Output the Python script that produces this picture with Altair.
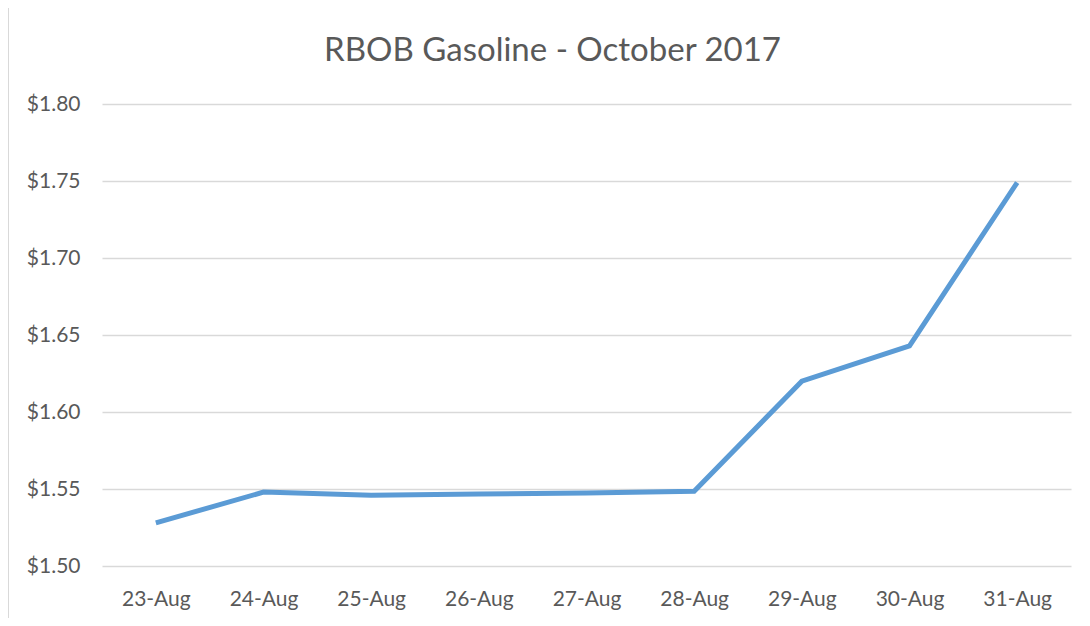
import altair as alt
import pandas as pd

dates = ["23-Aug", "24-Aug", "25-Aug", "26-Aug", "27-Aug", "28-Aug", "29-Aug", "30-Aug", "31-Aug"]
prices = [1.528, 1.548, 1.546, 1.5467, 1.5474, 1.5485, 1.620, 1.643, 1.749]
y_ticks = [1.50, 1.55, 1.60, 1.65, 1.70, 1.75, 1.80]

df = pd.DataFrame({"date": dates, "price": prices})

W, H = 969, 462
FONT = "Lato"
GREY = "#595959"

line = alt.Chart(df).mark_line(color="#5B9BD5", strokeWidth=5, strokeCap="butt", strokeJoin="miter").encode(
    x=alt.X("date:O", sort=dates, title=None,
            scale=alt.Scale(type="point", padding=0.5),
            axis=alt.Axis(labelAngle=0, ticks=False, domain=False, grid=False,
                          labelFontSize=21, labelColor=GREY, labelFont=FONT, labelPadding=22)),
    y=alt.Y("price:Q", title=None,
            scale=alt.Scale(domain=[1.50, 1.80], nice=False, zero=False),
            axis=alt.Axis(values=y_ticks, format="$.2f", ticks=False, domain=False,
                          grid=True, gridColor="#d9d9d9", gridWidth=1.5,
                          labelFontSize=21, labelColor=GREY, labelFont=FONT, labelPadding=22)),
)

border = alt.Chart(df).mark_rule(color="#d9d9d9", strokeWidth=2).encode(
    x=alt.value(-94), y=alt.value(-96), y2=alt.value(H + 60)
)

chart = alt.layer(border, line).properties(
    width=W, height=H,
    title=alt.TitleParams("RBOB Gasoline - October 2017", font=FONT, fontSize=33,
                          fontWeight="normal", color=GREY, anchor="middle",
                          dx=-34, offset=32, dy=93),
    autosize=alt.AutoSizeParams(type="none"),
    padding={"left": 94, "top": 96, "right": 5, "bottom": 52},
).configure_view(stroke=None)

chart.save("out.html", embed_options={"renderer": "svg", "actions": False})
